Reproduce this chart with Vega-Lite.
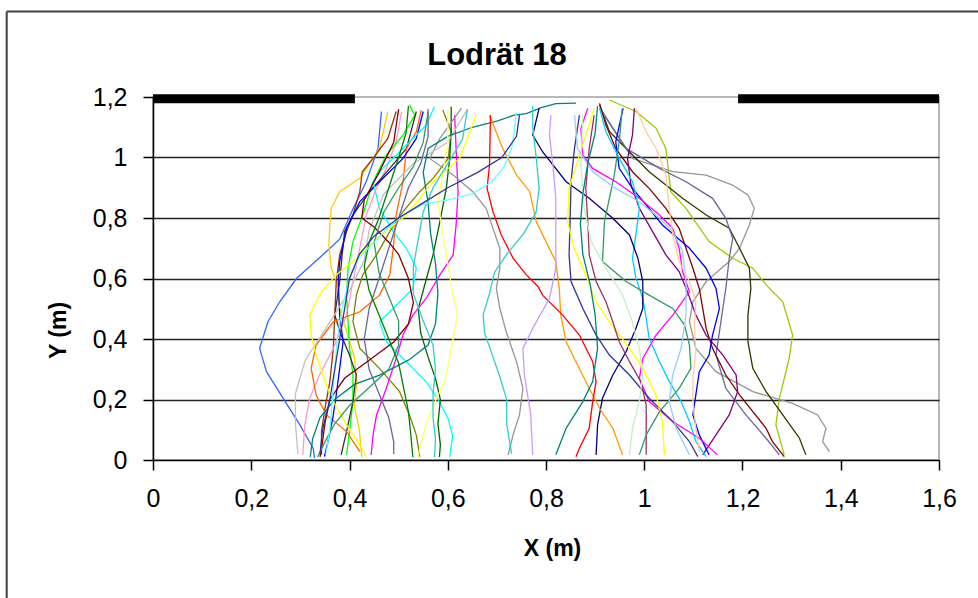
{
"$schema": "https://vega.github.io/schema/vega-lite/v6.json",
"width": 786, "height": 363,
"autosize": "none",
"padding": {"left": 153, "top": 97, "right": 39, "bottom": 138},
"background": "white",
"title": {"text": "Lodrät 18", "frame": "group", "anchor": "middle", "dx": -49, "offset": -85.5, "baseline": "alphabetic", "font": "Liberation Sans", "fontSize": 31, "fontWeight": "bold", "color": "black"},
"config": {"view": {"stroke": "#a0a0a0", "strokeWidth": 1.5}},
"datasets": {
"frame": [{"x": -0.2978, "x2": -0.2978, "y": 1.4826, "y2": -0.5}, {"x": -0.2978, "x2": 1.7, "y": 1.4826, "y2": 1.4826}],
"bars": [{"x": 0, "x2": 0.411, "y": 1.194}, {"x": 1.191, "x2": 1.6, "y": 1.194}],
"traj": [
{"s":"l1","x":0.465,"y":1.152},{"s":"l1","x":0.458,"y":1.03},{"s":"l1","x":0.434,"y":0.92},{"s":"l1","x":0.407,"y":0.83},{"s":"l1","x":0.38,"y":0.73},{"s":"l1","x":0.353,"y":0.689},{"s":"l1","x":0.292,"y":0.6},{"s":"l1","x":0.258,"y":0.523},{"s":"l1","x":0.234,"y":0.457},{"s":"l1","x":0.217,"y":0.369},{"s":"l1","x":0.231,"y":0.292},{"s":"l1","x":0.265,"y":0.204},{"s":"l1","x":0.299,"y":0.116},{"s":"l1","x":0.326,"y":0.039},{"s":"l1","x":0.329,"y":0.006},
{"s":"l2","x":0.478,"y":1.152},{"s":"l2","x":0.461,"y":1.03},{"s":"l2","x":0.421,"y":0.931},{"s":"l2","x":0.38,"y":0.887},{"s":"l2","x":0.363,"y":0.832},{"s":"l2","x":0.36,"y":0.777},{"s":"l2","x":0.358,"y":0.711},{"s":"l2","x":0.363,"y":0.634},{"s":"l2","x":0.373,"y":0.59},{"s":"l2","x":0.38,"y":0.5},{"s":"l2","x":0.395,"y":0.42},{"s":"l2","x":0.41,"y":0.34},{"s":"l2","x":0.415,"y":0.26},{"s":"l2","x":0.41,"y":0.18},{"s":"l2","x":0.42,"y":0.1},{"s":"l2","x":0.425,"y":0.01},
{"s":"l3","x":0.495,"y":1.152},{"s":"l3","x":0.478,"y":1.063},{"s":"l3","x":0.448,"y":0.997},{"s":"l3","x":0.426,"y":0.953},{"s":"l3","x":0.421,"y":0.887},{"s":"l3","x":0.407,"y":0.81},{"s":"l3","x":0.394,"y":0.755},{"s":"l3","x":0.38,"y":0.678},{"s":"l3","x":0.373,"y":0.59},{"s":"l3","x":0.37,"y":0.479},{"s":"l3","x":0.367,"y":0.369},{"s":"l3","x":0.36,"y":0.259},{"s":"l3","x":0.35,"y":0.171},{"s":"l3","x":0.343,"y":0.094},{"s":"l3","x":0.343,"y":0.017},
{"s":"l4","x":0.506,"y":1.152},{"s":"l4","x":0.495,"y":1.052},{"s":"l4","x":0.475,"y":0.964},{"s":"l4","x":0.455,"y":0.898},{"s":"l4","x":0.434,"y":0.81},{"s":"l4","x":0.421,"y":0.7},{"s":"l4","x":0.407,"y":0.59},{"s":"l4","x":0.394,"y":0.479},{"s":"l4","x":0.367,"y":0.369},{"s":"l4","x":0.339,"y":0.281},{"s":"l4","x":0.319,"y":0.204},{"s":"l4","x":0.309,"y":0.116},{"s":"l4","x":0.305,"y":0.017},
{"s":"l5","x":0.522,"y":1.174},{"s":"l5","x":0.533,"y":1.14},{"s":"l5","x":0.509,"y":1.074},{"s":"l5","x":0.475,"y":1.008},{"s":"l5","x":0.448,"y":0.92},{"s":"l5","x":0.427,"y":0.81},{"s":"l5","x":0.407,"y":0.722},{"s":"l5","x":0.397,"y":0.634},{"s":"l5","x":0.394,"y":0.545},{"s":"l5","x":0.397,"y":0.457},{"s":"l5","x":0.4,"y":0.369},{"s":"l5","x":0.407,"y":0.281},{"s":"l5","x":0.407,"y":0.193},{"s":"l5","x":0.4,"y":0.094},{"s":"l5","x":0.394,"y":0.017},
{"s":"l6","x":0.536,"y":1.152},{"s":"l6","x":0.516,"y":1.03},{"s":"l6","x":0.482,"y":0.964},{"s":"l6","x":0.441,"y":0.887},{"s":"l6","x":0.407,"y":0.81},{"s":"l6","x":0.39,"y":0.755},{"s":"l6","x":0.385,"y":0.678},{"s":"l6","x":0.38,"y":0.59},{"s":"l6","x":0.37,"y":0.479},{"s":"l6","x":0.383,"y":0.413},{"s":"l6","x":0.4,"y":0.347},{"s":"l6","x":0.414,"y":0.281},{"s":"l6","x":0.407,"y":0.193},{"s":"l6","x":0.394,"y":0.094},{"s":"l6","x":0.383,"y":0.017},
{"s":"l7","x":0.546,"y":1.157},{"s":"l7","x":0.536,"y":1.085},{"s":"l7","x":0.516,"y":1.03},{"s":"l7","x":0.509,"y":0.92},{"s":"l7","x":0.495,"y":0.81},{"s":"l7","x":0.489,"y":0.7},{"s":"l7","x":0.482,"y":0.612},{"s":"l7","x":0.461,"y":0.545},{"s":"l7","x":0.421,"y":0.49},{"s":"l7","x":0.367,"y":0.457},{"s":"l7","x":0.332,"y":0.38},{"s":"l7","x":0.322,"y":0.303},{"s":"l7","x":0.332,"y":0.215},{"s":"l7","x":0.353,"y":0.149},{"s":"l7","x":0.394,"y":0.094},{"s":"l7","x":0.421,"y":0.028},
{"s":"l8","x":0.55,"y":1.152},{"s":"l8","x":0.536,"y":1.063},{"s":"l8","x":0.509,"y":0.997},{"s":"l8","x":0.461,"y":0.92},{"s":"l8","x":0.421,"y":0.854},{"s":"l8","x":0.394,"y":0.766},{"s":"l8","x":0.38,"y":0.656},{"s":"l8","x":0.377,"y":0.59},{"s":"l8","x":0.38,"y":0.479},{"s":"l8","x":0.387,"y":0.391},{"s":"l8","x":0.38,"y":0.303},{"s":"l8","x":0.373,"y":0.215},{"s":"l8","x":0.366,"y":0.138},{"s":"l8","x":0.356,"y":0.061},{"s":"l8","x":0.349,"y":0.011},
{"s":"l9","x":0.573,"y":1.168},{"s":"l9","x":0.556,"y":1.107},{"s":"l9","x":0.509,"y":1.03},{"s":"l9","x":0.468,"y":0.964},{"s":"l9","x":0.448,"y":0.92},{"s":"l9","x":0.461,"y":0.832},{"s":"l9","x":0.489,"y":0.755},{"s":"l9","x":0.516,"y":0.7},{"s":"l9","x":0.536,"y":0.634},{"s":"l9","x":0.529,"y":0.567},{"s":"l9","x":0.489,"y":0.501},{"s":"l9","x":0.461,"y":0.457},{"s":"l9","x":0.475,"y":0.391},{"s":"l9","x":0.516,"y":0.325},{"s":"l9","x":0.556,"y":0.259},{"s":"l9","x":0.58,"y":0.2},{"s":"l9","x":0.6,"y":0.14},{"s":"l9","x":0.61,"y":0.08},{"s":"l9","x":0.604,"y":0.01},
{"s":"l10","x":0.59,"y":1.157},{"s":"l10","x":0.607,"y":1.085},{"s":"l10","x":0.601,"y":0.997},{"s":"l10","x":0.57,"y":0.931},{"s":"l10","x":0.543,"y":0.887},{"s":"l10","x":0.509,"y":0.821},{"s":"l10","x":0.482,"y":0.755},{"s":"l10","x":0.455,"y":0.678},{"s":"l10","x":0.427,"y":0.612},{"s":"l10","x":0.414,"y":0.545},{"s":"l10","x":0.407,"y":0.457},{"s":"l10","x":0.421,"y":0.369},{"s":"l10","x":0.461,"y":0.303},{"s":"l10","x":0.502,"y":0.226},{"s":"l10","x":0.522,"y":0.149},{"s":"l10","x":0.536,"y":0.083},{"s":"l10","x":0.543,"y":0.011},
{"s":"l11","x":0.607,"y":1.168},{"s":"l11","x":0.607,"y":1.085},{"s":"l11","x":0.604,"y":0.997},{"s":"l11","x":0.597,"y":0.898},{"s":"l11","x":0.584,"y":0.788},{"s":"l11","x":0.57,"y":0.678},{"s":"l11","x":0.555,"y":0.59},{"s":"l11","x":0.54,"y":0.5},{"s":"l11","x":0.545,"y":0.42},{"s":"l11","x":0.56,"y":0.34},{"s":"l11","x":0.575,"y":0.27},{"s":"l11","x":0.585,"y":0.2},{"s":"l11","x":0.58,"y":0.12},{"s":"l11","x":0.585,"y":0.05},{"s":"l11","x":0.583,"y":0.01},
{"s":"l12","x":0.614,"y":1.14},{"s":"l12","x":0.617,"y":1.03},{"s":"l12","x":0.621,"y":0.887},{"s":"l12","x":0.617,"y":0.777},{"s":"l12","x":0.611,"y":0.678},{"s":"l12","x":0.584,"y":0.612},{"s":"l12","x":0.556,"y":0.534},{"s":"l12","x":0.529,"y":0.479},{"s":"l12","x":0.509,"y":0.413},{"s":"l12","x":0.495,"y":0.336},{"s":"l12","x":0.475,"y":0.237},{"s":"l12","x":0.455,"y":0.149},{"s":"l12","x":0.448,"y":0.083},{"s":"l12","x":0.444,"y":0.017},
{"s":"l13","x":0.628,"y":1.163},{"s":"l13","x":0.584,"y":1.063},{"s":"l13","x":0.563,"y":0.997},{"s":"l13","x":0.611,"y":0.942},{"s":"l13","x":0.651,"y":0.887},{"s":"l13","x":0.678,"y":0.832},{"s":"l13","x":0.692,"y":0.766},{"s":"l13","x":0.706,"y":0.7},{"s":"l13","x":0.706,"y":0.634},{"s":"l13","x":0.699,"y":0.567},{"s":"l13","x":0.706,"y":0.501},{"s":"l13","x":0.719,"y":0.424},{"s":"l13","x":0.74,"y":0.325},{"s":"l13","x":0.753,"y":0.237},{"s":"l13","x":0.746,"y":0.149},{"s":"l13","x":0.733,"y":0.083},{"s":"l13","x":0.723,"y":0.017},
{"s":"l14","x":0.64,"y":1.16},{"s":"l14","x":0.6,"y":1.05},{"s":"l14","x":0.53,"y":0.98},{"s":"l14","x":0.47,"y":0.88},{"s":"l14","x":0.44,"y":0.76},{"s":"l14","x":0.43,"y":0.66},{"s":"l14","x":0.4,"y":0.56},{"s":"l14","x":0.35,"y":0.43},{"s":"l14","x":0.31,"y":0.33},{"s":"l14","x":0.29,"y":0.22},{"s":"l14","x":0.29,"y":0.12},{"s":"l14","x":0.295,"y":0.02},
{"s":"l15","x":0.861,"y":1.18},{"s":"l15","x":0.82,"y":1.178},{"s":"l15","x":0.79,"y":1.165},{"s":"l15","x":0.76,"y":1.145},{"s":"l15","x":0.735,"y":1.14},{"s":"l15","x":0.7,"y":1.12},{"s":"l15","x":0.65,"y":1.1},{"s":"l15","x":0.6,"y":1.07},{"s":"l15","x":0.56,"y":1.03},{"s":"l15","x":0.55,"y":0.95},{"s":"l15","x":0.56,"y":0.85},{"s":"l15","x":0.565,"y":0.75},{"s":"l15","x":0.575,"y":0.65},{"s":"l15","x":0.58,"y":0.55},{"s":"l15","x":0.575,"y":0.45},{"s":"l15","x":0.56,"y":0.38},{"s":"l15","x":0.52,"y":0.33},{"s":"l15","x":0.46,"y":0.28},{"s":"l15","x":0.41,"y":0.25},{"s":"l15","x":0.37,"y":0.2},{"s":"l15","x":0.34,"y":0.14},{"s":"l15","x":0.325,"y":0.07},{"s":"l15","x":0.32,"y":0.01},
{"s":"l16","x":0.658,"y":1.14},{"s":"l16","x":0.624,"y":0.997},{"s":"l16","x":0.57,"y":0.92},{"s":"l16","x":0.516,"y":0.81},{"s":"l16","x":0.448,"y":0.722},{"s":"l16","x":0.407,"y":0.656},{"s":"l16","x":0.373,"y":0.612},{"s":"l16","x":0.343,"y":0.556},{"s":"l16","x":0.319,"y":0.479},{"s":"l16","x":0.322,"y":0.413},{"s":"l16","x":0.332,"y":0.347},{"s":"l16","x":0.346,"y":0.281},{"s":"l16","x":0.363,"y":0.204},{"s":"l16","x":0.394,"y":0.116},{"s":"l16","x":0.421,"y":0.05},{"s":"l16","x":0.434,"y":0.011},
{"s":"l17","x":0.6,"y":1.16},{"s":"l17","x":0.6,"y":1.05},{"s":"l17","x":0.59,"y":0.95},{"s":"l17","x":0.58,"y":0.85},{"s":"l17","x":0.59,"y":0.75},{"s":"l17","x":0.6,"y":0.65},{"s":"l17","x":0.61,"y":0.55},{"s":"l17","x":0.62,"y":0.48},{"s":"l17","x":0.607,"y":0.369},{"s":"l17","x":0.594,"y":0.259},{"s":"l17","x":0.577,"y":0.204},{"s":"l17","x":0.556,"y":0.116},{"s":"l17","x":0.543,"y":0.039},{"s":"l17","x":0.54,"y":0.01},
{"s":"l18","x":0.56,"y":1.16},{"s":"l18","x":0.56,"y":1.07},{"s":"l18","x":0.545,"y":0.98},{"s":"l18","x":0.52,"y":0.9},{"s":"l18","x":0.5,"y":0.8},{"s":"l18","x":0.48,"y":0.7},{"s":"l18","x":0.46,"y":0.6},{"s":"l18","x":0.44,"y":0.5},{"s":"l18","x":0.43,"y":0.4},{"s":"l18","x":0.44,"y":0.3},{"s":"l18","x":0.46,"y":0.22},{"s":"l18","x":0.48,"y":0.14},{"s":"l18","x":0.49,"y":0.06},{"s":"l18","x":0.49,"y":0.02},
{"s":"l20","x":0.5,"y":1.16},{"s":"l20","x":0.49,"y":1.05},{"s":"l20","x":0.46,"y":0.95},{"s":"l20","x":0.43,"y":0.86},{"s":"l20","x":0.425,"y":0.8},{"s":"l20","x":0.45,"y":0.77},{"s":"l20","x":0.48,"y":0.72},{"s":"l20","x":0.5,"y":0.68},{"s":"l20","x":0.52,"y":0.6},{"s":"l20","x":0.53,"y":0.52},{"s":"l20","x":0.52,"y":0.45},{"s":"l20","x":0.49,"y":0.39},{"s":"l20","x":0.44,"y":0.33},{"s":"l20","x":0.39,"y":0.27},{"s":"l20","x":0.36,"y":0.2},{"s":"l20","x":0.35,"y":0.12},{"s":"l20","x":0.345,"y":0.06},{"s":"l20","x":0.34,"y":0.01},
{"s":"l21","x":0.56,"y":1.15},{"s":"l21","x":0.55,"y":1.05},{"s":"l21","x":0.53,"y":0.97},{"s":"l21","x":0.5,"y":0.9},{"s":"l21","x":0.47,"y":0.82},{"s":"l21","x":0.45,"y":0.72},{"s":"l21","x":0.46,"y":0.62},{"s":"l21","x":0.48,"y":0.54},{"s":"l21","x":0.5,"y":0.46},{"s":"l21","x":0.5,"y":0.38},{"s":"l21","x":0.48,"y":0.3},{"s":"l21","x":0.44,"y":0.24},{"s":"l21","x":0.4,"y":0.18},{"s":"l21","x":0.37,"y":0.12},{"s":"l21","x":0.35,"y":0.06},{"s":"l21","x":0.335,"y":0.01},
{"s":"l22","x":0.52,"y":1.17},{"s":"l22","x":0.515,"y":1.08},{"s":"l22","x":0.5,"y":1.0},{"s":"l22","x":0.48,"y":0.9},{"s":"l22","x":0.46,"y":0.8},{"s":"l22","x":0.44,"y":0.72},{"s":"l22","x":0.43,"y":0.64},{"s":"l22","x":0.44,"y":0.56},{"s":"l22","x":0.46,"y":0.48},{"s":"l22","x":0.48,"y":0.4},{"s":"l22","x":0.5,"y":0.32},{"s":"l22","x":0.51,"y":0.24},{"s":"l22","x":0.52,"y":0.16},{"s":"l22","x":0.525,"y":0.08},{"s":"l22","x":0.529,"y":0.01},
{"s":"l23","x":0.64,"y":1.16},{"s":"l23","x":0.63,"y":1.06},{"s":"l23","x":0.6,"y":0.98},{"s":"l23","x":0.57,"y":0.9},{"s":"l23","x":0.55,"y":0.82},{"s":"l23","x":0.54,"y":0.73},{"s":"l23","x":0.53,"y":0.64},{"s":"l23","x":0.53,"y":0.55},{"s":"l23","x":0.55,"y":0.46},{"s":"l23","x":0.57,"y":0.38},{"s":"l23","x":0.575,"y":0.3},{"s":"l23","x":0.57,"y":0.22},{"s":"l23","x":0.57,"y":0.14},{"s":"l23","x":0.575,"y":0.07},{"s":"l23","x":0.573,"y":0.01},
{"s":"r1","x":0.929,"y":1.19},{"s":"r1","x":0.983,"y":1.152},{"s":"r1","x":1.024,"y":1.097},{"s":"r1","x":1.044,"y":1.03},{"s":"r1","x":1.054,"y":0.887},{"s":"r1","x":1.085,"y":0.832},{"s":"r1","x":1.132,"y":0.722},{"s":"r1","x":1.18,"y":0.667},{"s":"r1","x":1.221,"y":0.634},{"s":"r1","x":1.248,"y":0.579},{"s":"r1","x":1.282,"y":0.523},{"s":"r1","x":1.302,"y":0.413},{"s":"r1","x":1.295,"y":0.336},{"s":"r1","x":1.275,"y":0.204},{"s":"r1","x":1.268,"y":0.116},{"s":"r1","x":1.285,"y":0.017},
{"s":"r2","x":0.915,"y":1.152},{"s":"r2","x":0.976,"y":0.997},{"s":"r2","x":1.058,"y":0.953},{"s":"r2","x":1.126,"y":0.942},{"s":"r2","x":1.18,"y":0.909},{"s":"r2","x":1.211,"y":0.876},{"s":"r2","x":1.224,"y":0.832},{"s":"r2","x":1.214,"y":0.777},{"s":"r2","x":1.194,"y":0.7},{"s":"r2","x":1.173,"y":0.656},{"s":"r2","x":1.126,"y":0.59},{"s":"r2","x":1.099,"y":0.523},{"s":"r2","x":1.092,"y":0.457},{"s":"r2","x":1.105,"y":0.369},{"s":"r2","x":1.146,"y":0.292},{"s":"r2","x":1.221,"y":0.226},{"s":"r2","x":1.302,"y":0.187},{"s":"r2","x":1.353,"y":0.149},{"s":"r2","x":1.37,"y":0.105},{"s":"r2","x":1.363,"y":0.061},{"s":"r2","x":1.377,"y":0.028},
{"s":"r3","x":0.909,"y":1.174},{"s":"r3","x":0.929,"y":1.086},{"s":"r3","x":0.963,"y":1.03},{"s":"r3","x":1.01,"y":0.953},{"s":"r3","x":1.078,"y":0.865},{"s":"r3","x":1.126,"y":0.81},{"s":"r3","x":1.173,"y":0.766},{"s":"r3","x":1.194,"y":0.7},{"s":"r3","x":1.214,"y":0.634},{"s":"r3","x":1.217,"y":0.567},{"s":"r3","x":1.211,"y":0.479},{"s":"r3","x":1.211,"y":0.391},{"s":"r3","x":1.221,"y":0.303},{"s":"r3","x":1.248,"y":0.226},{"s":"r3","x":1.282,"y":0.149},{"s":"r3","x":1.316,"y":0.072},{"s":"r3","x":1.329,"y":0.017},
{"s":"r4","x":0.909,"y":1.163},{"s":"r4","x":0.963,"y":1.03},{"s":"r4","x":1.031,"y":0.964},{"s":"r4","x":1.085,"y":0.92},{"s":"r4","x":1.139,"y":0.865},{"s":"r4","x":1.166,"y":0.799},{"s":"r4","x":1.18,"y":0.733},{"s":"r4","x":1.173,"y":0.667},{"s":"r4","x":1.166,"y":0.567},{"s":"r4","x":1.156,"y":0.457},{"s":"r4","x":1.146,"y":0.347},{"s":"r4","x":1.166,"y":0.237},{"s":"r4","x":1.207,"y":0.149},{"s":"r4","x":1.248,"y":0.072},{"s":"r4","x":1.275,"y":0.017},
{"s":"r5","x":0.909,"y":1.179},{"s":"r5","x":0.922,"y":1.107},{"s":"r5","x":0.942,"y":1.03},{"s":"r5","x":0.976,"y":0.953},{"s":"r5","x":1.01,"y":0.898},{"s":"r5","x":1.044,"y":0.832},{"s":"r5","x":1.071,"y":0.766},{"s":"r5","x":1.085,"y":0.7},{"s":"r5","x":1.099,"y":0.634},{"s":"r5","x":1.112,"y":0.567},{"s":"r5","x":1.119,"y":0.501},{"s":"r5","x":1.126,"y":0.435},{"s":"r5","x":1.139,"y":0.369},{"s":"r5","x":1.166,"y":0.281},{"s":"r5","x":1.194,"y":0.215},{"s":"r5","x":1.221,"y":0.16},{"s":"r5","x":1.248,"y":0.105},{"s":"r5","x":1.261,"y":0.061},{"s":"r5","x":1.285,"y":0.011},
{"s":"r6","x":0.98,"y":1.163},{"s":"r6","x":0.976,"y":1.074},{"s":"r6","x":0.966,"y":0.997},{"s":"r6","x":0.973,"y":0.909},{"s":"r6","x":0.99,"y":0.832},{"s":"r6","x":1.017,"y":0.755},{"s":"r6","x":1.044,"y":0.678},{"s":"r6","x":1.071,"y":0.623},{"s":"r6","x":1.088,"y":0.556},{"s":"r6","x":1.105,"y":0.479},{"s":"r6","x":1.126,"y":0.413},{"s":"r6","x":1.16,"y":0.347},{"s":"r6","x":1.187,"y":0.281},{"s":"r6","x":1.19,"y":0.226},{"s":"r6","x":1.173,"y":0.149},{"s":"r6","x":1.146,"y":0.083},{"s":"r6","x":1.119,"y":0.017},
{"s":"r7","x":0.957,"y":1.163},{"s":"r7","x":0.942,"y":1.052},{"s":"r7","x":0.949,"y":0.964},{"s":"r7","x":0.976,"y":0.898},{"s":"r7","x":1.004,"y":0.843},{"s":"r7","x":1.037,"y":0.777},{"s":"r7","x":1.092,"y":0.7},{"s":"r7","x":1.126,"y":0.634},{"s":"r7","x":1.146,"y":0.567},{"s":"r7","x":1.153,"y":0.501},{"s":"r7","x":1.139,"y":0.413},{"s":"r7","x":1.132,"y":0.347},{"s":"r7","x":1.112,"y":0.292},{"s":"r7","x":1.105,"y":0.215},{"s":"r7","x":1.099,"y":0.149},{"s":"r7","x":1.112,"y":0.083},{"s":"r7","x":1.132,"y":0.017},
{"s":"r8","x":0.885,"y":1.163},{"s":"r8","x":0.871,"y":1.096},{"s":"r8","x":0.875,"y":1.008},{"s":"r8","x":0.895,"y":0.964},{"s":"r8","x":0.942,"y":0.92},{"s":"r8","x":0.99,"y":0.865},{"s":"r8","x":1.031,"y":0.81},{"s":"r8","x":1.058,"y":0.766},{"s":"r8","x":1.071,"y":0.7},{"s":"r8","x":1.078,"y":0.623},{"s":"r8","x":1.092,"y":0.556},{"s":"r8","x":1.058,"y":0.479},{"s":"r8","x":1.024,"y":0.413},{"s":"r8","x":0.997,"y":0.336},{"s":"r8","x":0.99,"y":0.27},{"s":"r8","x":1.01,"y":0.193},{"s":"r8","x":1.058,"y":0.127},{"s":"r8","x":1.112,"y":0.072},{"s":"r8","x":1.149,"y":0.017},
{"s":"r9","x":0.909,"y":1.163},{"s":"r9","x":0.922,"y":1.085},{"s":"r9","x":0.949,"y":0.997},{"s":"r9","x":0.976,"y":0.92},{"s":"r9","x":0.99,"y":0.832},{"s":"r9","x":0.983,"y":0.744},{"s":"r9","x":0.976,"y":0.667},{"s":"r9","x":0.983,"y":0.601},{"s":"r9","x":0.997,"y":0.534},{"s":"r9","x":1.004,"y":0.468},{"s":"r9","x":1.01,"y":0.402},{"s":"r9","x":1.031,"y":0.325},{"s":"r9","x":1.051,"y":0.259},{"s":"r9","x":1.075,"y":0.193},{"s":"r9","x":1.092,"y":0.127},{"s":"r9","x":1.105,"y":0.061},{"s":"r9","x":1.126,"y":0.011},
{"s":"r10","x":0.786,"y":1.163},{"s":"r10","x":0.773,"y":1.074},{"s":"r10","x":0.793,"y":1.019},{"s":"r10","x":0.841,"y":0.92},{"s":"r10","x":0.888,"y":0.865},{"s":"r10","x":0.936,"y":0.799},{"s":"r10","x":0.97,"y":0.744},{"s":"r10","x":0.987,"y":0.667},{"s":"r10","x":0.997,"y":0.59},{"s":"r10","x":0.997,"y":0.501},{"s":"r10","x":0.983,"y":0.435},{"s":"r10","x":0.963,"y":0.358},{"s":"r10","x":0.936,"y":0.281},{"s":"r10","x":0.915,"y":0.204},{"s":"r10","x":0.905,"y":0.116},{"s":"r10","x":0.902,"y":0.017},
{"s":"r11","x":0.868,"y":1.14},{"s":"r11","x":0.858,"y":1.03},{"s":"r11","x":0.851,"y":0.92},{"s":"r11","x":0.849,"y":0.788},{"s":"r11","x":0.847,"y":0.678},{"s":"r11","x":0.851,"y":0.59},{"s":"r11","x":0.875,"y":0.501},{"s":"r11","x":0.902,"y":0.413},{"s":"r11","x":0.929,"y":0.347},{"s":"r11","x":0.97,"y":0.281},{"s":"r11","x":1.01,"y":0.204},{"s":"r11","x":1.058,"y":0.127},{"s":"r11","x":1.092,"y":0.061},{"s":"r11","x":1.109,"y":0.011},
{"s":"r12","x":0.898,"y":1.163},{"s":"r12","x":0.888,"y":1.107},{"s":"r12","x":0.868,"y":1.008},{"s":"r12","x":0.847,"y":0.898},{"s":"r12","x":0.844,"y":0.788},{"s":"r12","x":0.857,"y":0.7},{"s":"r12","x":0.881,"y":0.612},{"s":"r12","x":0.902,"y":0.523},{"s":"r12","x":0.929,"y":0.457},{"s":"r12","x":0.97,"y":0.369},{"s":"r12","x":0.997,"y":0.303},{"s":"r12","x":1.024,"y":0.215},{"s":"r12","x":1.037,"y":0.127},{"s":"r12","x":1.041,"y":0.017},
{"s":"r13","x":0.898,"y":1.14},{"s":"r13","x":0.888,"y":1.03},{"s":"r13","x":0.881,"y":0.898},{"s":"r13","x":0.885,"y":0.788},{"s":"r13","x":0.888,"y":0.678},{"s":"r13","x":0.902,"y":0.59},{"s":"r13","x":0.922,"y":0.523},{"s":"r13","x":0.936,"y":0.457},{"s":"r13","x":0.949,"y":0.391},{"s":"r13","x":0.97,"y":0.325},{"s":"r13","x":0.993,"y":0.259},{"s":"r13","x":1.004,"y":0.182},{"s":"r13","x":1.004,"y":0.094},{"s":"r13","x":1.004,"y":0.017},
{"s":"r14","x":0.955,"y":1.16},{"s":"r14","x":0.949,"y":1.052},{"s":"r14","x":0.939,"y":0.942},{"s":"r14","x":0.919,"y":0.788},{"s":"r14","x":0.915,"y":0.656},{"s":"r14","x":0.963,"y":0.59},{"s":"r14","x":1.01,"y":0.545},{"s":"r14","x":1.058,"y":0.501},{"s":"r14","x":1.082,"y":0.446},{"s":"r14","x":1.092,"y":0.38},{"s":"r14","x":1.095,"y":0.303},{"s":"r14","x":1.071,"y":0.237},{"s":"r14","x":1.031,"y":0.16},{"s":"r14","x":1.004,"y":0.083},{"s":"r14","x":0.99,"y":0.017},
{"s":"r15","x":0.858,"y":1.14},{"s":"r15","x":0.864,"y":1.03},{"s":"r15","x":0.895,"y":0.953},{"s":"r15","x":0.942,"y":0.898},{"s":"r15","x":0.99,"y":0.854},{"s":"r15","x":1.031,"y":0.799},{"s":"r15","x":1.058,"y":0.755},{"s":"r15","x":1.078,"y":0.689},{"s":"r15","x":1.085,"y":0.59},{"s":"r15","x":1.085,"y":0.479},{"s":"r15","x":1.075,"y":0.369},{"s":"r15","x":1.058,"y":0.281},{"s":"r15","x":1.051,"y":0.193},{"s":"r15","x":1.065,"y":0.105},{"s":"r15","x":1.092,"y":0.017},
{"s":"r16","x":0.983,"y":1.163},{"s":"r16","x":1.004,"y":1.085},{"s":"r16","x":1.024,"y":1.03},{"s":"r16","x":1.044,"y":0.942},{"s":"r16","x":1.051,"y":0.832},{"s":"r16","x":1.058,"y":0.744},{"s":"r16","x":1.071,"y":0.656},{"s":"r16","x":1.092,"y":0.59},{"s":"r16","x":1.105,"y":0.523},{"s":"r16","x":1.102,"y":0.446},{"s":"r16","x":1.105,"y":0.358},{"s":"r16","x":1.099,"y":0.27},{"s":"r16","x":1.099,"y":0.193},{"s":"r16","x":1.105,"y":0.105},{"s":"r16","x":1.112,"y":0.028},
{"s":"r17","x":0.875,"y":1.14},{"s":"r17","x":0.871,"y":0.975},{"s":"r17","x":0.878,"y":0.832},{"s":"r17","x":0.892,"y":0.722},{"s":"r17","x":0.922,"y":0.634},{"s":"r17","x":0.956,"y":0.545},{"s":"r17","x":0.976,"y":0.457},{"s":"r17","x":0.99,"y":0.369},{"s":"r17","x":0.997,"y":0.281},{"s":"r17","x":0.99,"y":0.193},{"s":"r17","x":0.976,"y":0.105},{"s":"r17","x":0.97,"y":0.017},
{"s":"r18","x":0.685,"y":1.14},{"s":"r18","x":0.712,"y":1.03},{"s":"r18","x":0.74,"y":0.942},{"s":"r18","x":0.767,"y":0.887},{"s":"r18","x":0.78,"y":0.788},{"s":"r18","x":0.8,"y":0.722},{"s":"r18","x":0.82,"y":0.656},{"s":"r18","x":0.827,"y":0.567},{"s":"r18","x":0.83,"y":0.479},{"s":"r18","x":0.841,"y":0.391},{"s":"r18","x":0.861,"y":0.325},{"s":"r18","x":0.888,"y":0.237},{"s":"r18","x":0.909,"y":0.171},{"s":"r18","x":0.936,"y":0.105},{"s":"r18","x":0.956,"y":0.017},
{"s":"r19","x":0.687,"y":1.14},{"s":"r19","x":0.685,"y":0.975},{"s":"r19","x":0.68,"y":0.898},{"s":"r19","x":0.692,"y":0.821},{"s":"r19","x":0.709,"y":0.744},{"s":"r19","x":0.733,"y":0.667},{"s":"r19","x":0.76,"y":0.612},{"s":"r19","x":0.784,"y":0.573},{"s":"r19","x":0.793,"y":0.545},{"s":"r19","x":0.834,"y":0.479},{"s":"r19","x":0.868,"y":0.413},{"s":"r19","x":0.895,"y":0.325},{"s":"r19","x":0.902,"y":0.259},{"s":"r19","x":0.895,"y":0.193},{"s":"r19","x":0.888,"y":0.105},{"s":"r19","x":0.868,"y":0.039},{"s":"r19","x":0.861,"y":0.011},
{"s":"r21","x":0.773,"y":1.17},{"s":"r21","x":0.773,"y":1.1},{"s":"r21","x":0.78,"y":1.0},{"s":"r21","x":0.786,"y":0.9},{"s":"r21","x":0.78,"y":0.82},{"s":"r21","x":0.755,"y":0.75},{"s":"r21","x":0.72,"y":0.68},{"s":"r21","x":0.695,"y":0.62},{"s":"r21","x":0.685,"y":0.55},{"s":"r21","x":0.672,"y":0.48},{"s":"r21","x":0.675,"y":0.42},{"s":"r21","x":0.69,"y":0.35},{"s":"r21","x":0.705,"y":0.28},{"s":"r21","x":0.72,"y":0.2},{"s":"r21","x":0.72,"y":0.12},{"s":"r21","x":0.73,"y":0.02},
{"s":"r22","x":0.81,"y":1.14},{"s":"r22","x":0.807,"y":1.074},{"s":"r22","x":0.814,"y":0.975},{"s":"r22","x":0.82,"y":0.865},{"s":"r22","x":0.82,"y":0.755},{"s":"r22","x":0.82,"y":0.634},{"s":"r22","x":0.807,"y":0.534},{"s":"r22","x":0.773,"y":0.435},{"s":"r22","x":0.753,"y":0.369},{"s":"r22","x":0.756,"y":0.281},{"s":"r22","x":0.769,"y":0.149},{"s":"r22","x":0.773,"y":0.017},
{"s":"r23","x":0.905,"y":1.17},{"s":"r23","x":0.9,"y":1.08},{"s":"r23","x":0.885,"y":0.98},{"s":"r23","x":0.875,"y":0.88},{"s":"r23","x":0.87,"y":0.78},{"s":"r23","x":0.875,"y":0.68},{"s":"r23","x":0.89,"y":0.58},{"s":"r23","x":0.9,"y":0.48},{"s":"r23","x":0.905,"y":0.369},{"s":"r23","x":0.895,"y":0.259},{"s":"r23","x":0.875,"y":0.193},{"s":"r23","x":0.841,"y":0.105},{"s":"r23","x":0.82,"y":0.017},
{"s":"r24","x":0.739,"y":1.15},{"s":"r24","x":0.735,"y":1.08},{"s":"r24","x":0.73,"y":1.03},{"s":"r24","x":0.715,"y":0.97},{"s":"r24","x":0.69,"y":0.92},{"s":"r24","x":0.65,"y":0.88},{"s":"r24","x":0.6,"y":0.86},{"s":"r24","x":0.55,"y":0.845},{"s":"r24","x":0.51,"y":0.81},{"s":"r24","x":0.48,"y":0.77},{"s":"r24","x":0.45,"y":0.72},{"s":"r24","x":0.42,"y":0.67},{"s":"r24","x":0.4,"y":0.6},{"s":"r24","x":0.385,"y":0.5},{"s":"r24","x":0.375,"y":0.4},{"s":"r24","x":0.37,"y":0.3},{"s":"r24","x":0.365,"y":0.2},{"s":"r24","x":0.36,"y":0.1},{"s":"r24","x":0.352,"y":0.02},
{"s":"r25","x":0.746,"y":1.14},{"s":"r25","x":0.74,"y":1.07},{"s":"r25","x":0.71,"y":1.0},{"s":"r25","x":0.66,"y":0.95},{"s":"r25","x":0.6,"y":0.9},{"s":"r25","x":0.55,"y":0.85},{"s":"r25","x":0.5,"y":0.8},{"s":"r25","x":0.45,"y":0.74},{"s":"r25","x":0.42,"y":0.68},{"s":"r25","x":0.4,"y":0.6},{"s":"r25","x":0.39,"y":0.5},{"s":"r25","x":0.38,"y":0.4},{"s":"r25","x":0.37,"y":0.3},{"s":"r25","x":0.36,"y":0.2},{"s":"r25","x":0.345,"y":0.1},{"s":"r25","x":0.34,"y":0.02}
]
},
"layer": [
{
"data": {"name": "frame"},
"mark": {"type": "rule", "color": "#404040", "strokeWidth": 2},
"encoding": {
"x": {"field": "x", "type": "quantitative",
 "scale": {"domain": [0, 1.6], "nice": false, "zero": false},
 "axis": {"values": [0, 0.2, 0.4, 0.6, 0.8, 1, 1.2, 1.4, 1.6], "title": "X (m)", "grid": false,
  "labelExpr": "replace(format(datum.value, '~g'), '.', ',')",
  "labelFlush": false, "labelOverlap": false,
  "domainColor": "black", "domainWidth": 1.5, "tickColor": "black", "tickWidth": 1.5, "tickSize": 10,
  "labelFont": "Liberation Sans", "labelFontSize": 25, "labelColor": "black", "labelPadding": 16,
  "titleFont": "Liberation Sans", "titleFontSize": 23, "titleFontWeight": "bold", "titleColor": "black",
  "titleX": 399, "titleY": 95, "titleBaseline": "alphabetic", "titleAlign": "center"}},
"x2": {"field": "x2"},
"y": {"field": "y", "type": "quantitative",
 "scale": {"domain": [0, 1.2], "nice": false, "zero": false},
 "axis": {"values": [0, 0.2, 0.4, 0.6, 0.8, 1, 1.2], "title": "Y (m)", "grid": true,
  "gridColor": {"condition": {"test": "datum.value > 1.1 || datum.value < 0.1", "value": "transparent"}, "value": "#222222"},
  "gridWidth": 1.5,
  "labelExpr": "replace(format(datum.value, '~g'), '.', ',')",
  "labelFlush": false, "labelOverlap": false,
  "domainColor": "black", "domainWidth": 1.5, "tickColor": "black", "tickWidth": 1.5, "tickSize": 10,
  "labelFont": "Liberation Sans", "labelFontSize": 25, "labelColor": "black", "labelPadding": 16,
  "titleFont": "Liberation Sans", "titleFontSize": 23, "titleFontWeight": "bold", "titleColor": "black",
  "titleX": -95, "titleY": 233, "titleAngle": 270, "titleBaseline": "middle", "titleAlign": "center"}},
"y2": {"field": "y2"}
}
},
{
"data": {"name": "traj"},
"mark": {"type": "line", "strokeWidth": 1.3},
"encoding": {
"x": {"field": "x", "type": "quantitative"},
"y": {"field": "y", "type": "quantitative"},
"order": {"field": "y", "sort": "descending"},
"color": {"field": "s", "type": "nominal", "legend": null,
 "scale": {
  "domain": ["l1","l2","l3","l4","l5","l6","l7","l8","l9","l10","l11","l12","l13","l14","l15","l16","l17","l18","l20","l21","l22","l23","r1","r2","r3","r4","r5","r6","r7","r8","r9","r10","r11","r12","r13","r14","r15","r16","r17","r18","r19","r21","r22","r23","r24","r25"],
  "range": ["#3366FF","#FFCC00","#993300","#FF99CC","#00FF00","#333333","#FF6600","#0000FF","#00FFFF","#808000","#006400","#FF00FF","#969696","#C0C0C0","#008080","#FFFF00","#FFFF66","#666699","#800000","#339966","#008000","#33CCCC","#99CC00","#969696","#333300","#666699","#800000","#800080","#0000FF","#FF00FF","#00CCFF","#000080","#333399","#FFFF00","#993366","#339966","#99CCFF","#FFCC99","#C6EFC6","#FF9900","#FF0000","#33CCCC","#CC99FF","#008080","#66FFFF","#333399"]}}
}
},
{
"data": {"name": "bars"},
"mark": {"type": "rule", "color": "black", "strokeWidth": 9},
"encoding": {
"x": {"field": "x", "type": "quantitative"},
"x2": {"field": "x2"},
"y": {"field": "y", "type": "quantitative"}
}
}
]
}
